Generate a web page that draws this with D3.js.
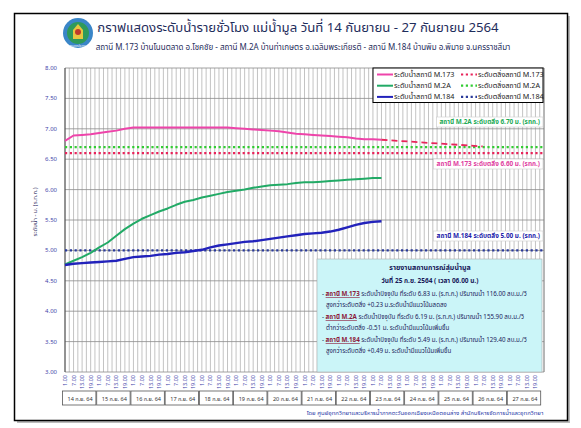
<!DOCTYPE html>
<html><head><meta charset="utf-8">
<script src="https://cdn.jsdelivr.net/npm/d3@7/dist/d3.min.js"></script>
<style>body{margin:0;background:#fff;} text{font-family:"Noto Sans","Noto Sans Thai",Tahoma,sans-serif;}</style>
</head><body><svg id="c" width="581" height="428"></svg>
<script>
// ---- data ----
const hours = d3.range(0, 223, 6); // hours since 14 Sep 01:00, every 6 h
const m173 = [6.80,6.89,6.90,6.91,6.93,6.95,6.97,7.00,7.02,7.02,7.02,7.02,7.02,7.02,7.02,7.02,7.02,7.02,7.02,7.02,7.01,7.00,6.99,6.98,6.97,6.96,6.94,6.92,6.91,6.90,6.89,6.88,6.87,6.86,6.84,6.83,6.83,6.82];
const m2a  = [4.77,4.83,4.89,4.96,5.05,5.13,5.24,5.35,5.44,5.52,5.58,5.64,5.69,5.75,5.80,5.83,5.87,5.90,5.93,5.96,5.98,6.00,6.03,6.05,6.07,6.08,6.09,6.11,6.12,6.12,6.13,6.14,6.15,6.16,6.17,6.18,6.19,6.19];
const m184 = [4.76,4.78,4.79,4.80,4.81,4.82,4.83,4.86,4.89,4.90,4.91,4.93,4.94,4.96,4.97,4.99,5.01,5.05,5.08,5.10,5.12,5.14,5.15,5.17,5.19,5.21,5.23,5.25,5.27,5.28,5.29,5.31,5.34,5.38,5.42,5.45,5.47,5.48];
const trendHours = [222, 293];
const trend173 = [6.82, 6.71];
const bankLevels = {m173: 6.60, m2a: 6.70, m184: 5.00};
const days = ["14 ก.ย. 64","15 ก.ย. 64","16 ก.ย. 64","17 ก.ย. 64","18 ก.ย. 64","19 ก.ย. 64","20 ก.ย. 64","21 ก.ย. 64","22 ก.ย. 64","23 ก.ย. 64","24 ก.ย. 64","25 ก.ย. 64","26 ก.ย. 64","27 ก.ย. 64"];
const hourLabels = ["1.00","7.00","13.00","19.00"];
const yTicks = [3.0,3.5,4.0,4.5,5.0,5.5,6.0,6.5,7.0,7.5,8.0];
const legendItems = [
  {t:"ระดับน้ำสถานี M.173", c:"#ee44aa", dot:false},
  {t:"ระดับตลิ่งสถานี M.173", c:"#e8245a", dot:true},
  {t:"ระดับน้ำสถานี M.2A", c:"#22aa66", dot:false},
  {t:"ระดับตลิ่งสถานี M.2A", c:"#33cc33", dot:true},
  {t:"ระดับน้ำสถานี M.184", c:"#2222bb", dot:false},
  {t:"ระดับตลิ่งสถานี M.184", c:"#2a3a9a", dot:true}
];

const svg = d3.select("#c");
const L=65, R=544, T=68, B=372;
const x = d3.scaleLinear().domain([0,336]).range([L,R]);
const y = d3.scaleLinear().domain([3,8]).range([B,T]);

// frame
svg.append("rect").attr("x",17).attr("y",16).attr("width",553).attr("height",407).attr("fill","#bbb");
svg.append("rect").attr("x",14.5).attr("y",13.5).attr("width",553).attr("height",407).attr("fill","#fff").attr("stroke","#000").attr("stroke-width",1.5);

// logo
const lg = svg.append("g").attr("transform","translate(78,33)");
lg.append("circle").attr("r",15).attr("fill","#3a86c8");
lg.append("circle").attr("r",11).attr("fill","#2f9a5a");
lg.append("path").attr("d","M-5,6 L-5,-3 L0,-9 L5,-3 L5,6 Z").attr("fill","#e8c640");
lg.append("circle").attr("r",3).attr("cy",-1).attr("fill","#c0392b");
lg.append("text").attr("y",13.5).attr("text-anchor","middle").attr("font-size",3).attr("fill","#fff").text("กรมชลประทาน");

// titles
svg.append("text").attr("x",298).attr("y",32).attr("text-anchor","middle").attr("font-size",13.2).attr("fill","#1f2d5c")
  .text("กราฟแสดงระดับน้ำรายชั่วโมง แม่น้ำมูล วันที่ 14 กันยายน - 27 กันยายน 2564");
svg.append("text").attr("x",303).attr("y",50).attr("text-anchor","middle").attr("font-size",8).attr("fill","#1f2d5c")
  .text("สถานี M.173 บ้านโนนตลาด อ.โชคชัย - สถานี M.2A บ้านท่าเกษตร อ.เฉลิมพระเกียรติ - สถานี M.184 บ้านพิม อ.พิมาย จ.นครราชสีมา");

// grid
const g = svg.append("g");
g.selectAll("line.v").data(d3.range(0,337,3)).join("line")
  .attr("x1",d=>x(d)).attr("x2",d=>x(d)).attr("y1",T).attr("y2",B)
  .attr("stroke","#b4b4b4").attr("stroke-width",0.8);
g.selectAll("line.h").data(yTicks).join("line")
  .attr("x1",L).attr("x2",R).attr("y1",d=>y(d)).attr("y2",d=>y(d))
  .attr("stroke","#8c8c8c").attr("stroke-width",0.8);
g.append("line").attr("x1",L).attr("x2",L).attr("y1",T).attr("y2",B).attr("stroke","#444").attr("stroke-width",1);
g.append("line").attr("x1",R).attr("x2",R).attr("y1",T).attr("y2",B).attr("stroke","#777").attr("stroke-width",0.8);

// y axis labels
g.selectAll("text.yl").data(yTicks).join("text")
  .attr("x",L-8).attr("y",d=>y(d)+2).attr("text-anchor","end").attr("font-size",6).attr("fill","#4444aa")
  .text(d=>d.toFixed(2));
svg.append("text").attr("transform","translate(37,212) rotate(-90)").attr("text-anchor","middle")
  .attr("font-size",6).attr("fill","#333366").text("ระดับน้ำ - ม. (ร.ท.ก.)");

// x labels
const xt = d3.range(0,336,6);
g.selectAll("text.xl").data(xt).join("text")
  .attr("transform",d=>`translate(${x(d)+2},${B+3}) rotate(-90)`)
  .attr("text-anchor","end").attr("font-size",5.5).attr("fill","#4444aa")
  .text(d=>hourLabels[(d%24)/6]);

// day boxes
const db = svg.append("g");
days.forEach((d,i)=>{
  db.append("rect").attr("x",x(i*24)-2.5).attr("y",391).attr("width",x(24)-x(0)-0.8).attr("height",14)
    .attr("fill","#fff").attr("stroke","#555").attr("stroke-width",0.8);
  db.append("text").attr("x",x(i*24+12)-2).attr("y",400.5).attr("text-anchor","middle").attr("font-size",5.5).attr("fill","#333").text(d);
});

// bank lines
const bank = [[bankLevels.m2a,"#33cc33"],[bankLevels.m173,"#e8245a"],[bankLevels.m184,"#2a3a9a"]];
bank.forEach(([v,c])=>{
  g.append("line").attr("x1",L).attr("x2",R).attr("y1",y(v)).attr("y2",y(v))
    .attr("stroke",c).attr("stroke-width",2.2).attr("stroke-dasharray","2.2,2.6");
});

// series
const line = d3.line().x(d=>x(d[0])).y(d=>y(d[1]));
[[m2a,"#22aa66",2],[m184,"#2222bb",2.4],[m173,"#ee44aa",2]].forEach(([s,c,w])=>{
  svg.append("path").datum(hours.map((h,i)=>[h,s[i]])).attr("d",line)
    .attr("fill","none").attr("stroke",c).attr("stroke-width",w).attr("stroke-linejoin","round");
});
svg.append("path").datum(trendHours.map((h,i)=>[h,trend173[i]])).attr("d",line)
  .attr("fill","none").attr("stroke","#e8245a").attr("stroke-width",1.8).attr("stroke-dasharray","6,4");

// legend
const lgd = svg.append("g");
lgd.append("rect").attr("x",373).attr("y",68).attr("width",170).attr("height",34.5).attr("fill","#fff").attr("stroke","#000").attr("stroke-width",1);
legendItems.forEach((it,i)=>{
  const col=i%2,row=Math.floor(i/2);
  const lx = col? 461:377, ly = 74.5+row*11.2;
  lgd.append("line").attr("x1",lx).attr("x2",lx+16).attr("y1",ly).attr("y2",ly).attr("stroke",it.c)
    .attr("stroke-width",it.dot?2.2:2).attr("stroke-dasharray",it.dot?"2.2,2.6":null);
  lgd.append("text").attr("x",lx+17).attr("y",ly+2.3).attr("font-size",7.2).attr("fill","#222").text(it.t);
});

// bank annotations
function note(text,xr,yc,c){
  const ng = svg.append("g");
  const r = ng.append("rect");
  const t = ng.append("text").attr("x",xr-3).attr("y",yc+2.2).attr("text-anchor","end").attr("font-size",6.4)
    .attr("font-weight","bold").attr("fill",c).text(text);
  const bb = t.node().getBBox();
  r.attr("x",bb.x-3).attr("y",yc-5).attr("width",bb.width+6).attr("height",10)
    .attr("fill","#fff").attr("stroke","#ccc").attr("stroke-width",0.6);
}
note("สถานี M.2A ระดับตลิ่ง 6.70 ม. (รทก.)",543,122,"#22aa55");
note("สถานี M.173 ระดับตลิ่ง 6.60 ม. (รทก.)",543,164,"#e040a0");
note("สถานี M.184 ระดับตลิ่ง 5.00 ม. (รทก.)",543,236,"#2222aa");

// info box
const ib = svg.append("g");
ib.append("rect").attr("x",317).attr("y",259).attr("width",225).attr("height",113).attr("fill","#cbf5f8").attr("stroke","#aaa").attr("stroke-width",0.6);
ib.append("text").attr("x",430).attr("y",270).attr("text-anchor","middle").attr("font-size",7).attr("font-weight","bold").attr("fill","#1a1a5a").text("รายงานสถานการณ์ลุ่มน้ำมูล");
ib.append("text").attr("x",430).attr("y",283).attr("text-anchor","middle").attr("font-size",6.5).attr("font-weight","bold").attr("fill","#1a1a5a").text("วันที่ 25 ก.ย. 2564  ( เวลา 06.00 น.)");
const info = [
  ["M.173","ระดับน้ำปัจจุบัน  ที่ระดับ 6.83 ม. (ร.ท.ก.) ปริมาณน้ำ 116.00 ลบ.ม./วิ","สูงกว่าระดับตลิ่ง  +0.23 ม.ระดับน้ำมีแนวโน้มลดลง"],
  ["M.2A","ระดับน้ำปัจจุบัน  ที่ระดับ 6.19 ม. (ร.ท.ก.) ปริมาณน้ำ 155.90 ลบ.ม./วิ","ต่ำกว่าระดับตลิ่ง  -0.51 ม. ระดับน้ำมีแนวโน้มเพิ่มขึ้น"],
  ["M.184","ระดับน้ำปัจจุบัน  ที่ระดับ 5.49 ม. (ร.ท.ก.) ปริมาณน้ำ 129.40 ลบ.ม./วิ","สูงกว่าระดับตลิ่ง  +0.49 ม. ระดับน้ำมีแนวโน้มเพิ่มขึ้น"]
];
info.forEach((r,i)=>{
  const yy = 296+i*23;
  const t = ib.append("text").attr("x",322).attr("y",yy).attr("font-size",6.2).attr("fill","#1a1a5a");
  t.append("tspan").text("- ");
  t.append("tspan").attr("font-weight","bold").attr("fill","#8b1a3a").attr("text-decoration","underline").text("สถานี "+r[0]);
  t.append("tspan").text(" "+r[1]);
  ib.append("text").attr("x",326).attr("y",yy+11).attr("font-size",6.2).attr("fill","#1a1a5a").text(r[2]);
});

// footer
svg.append("text").attr("x",425).attr("y",415).attr("text-anchor","middle").attr("font-size",6).attr("fill","#2a3aa8")
  .text("โดย ศูนย์อุทกวิทยาและบริหารน้ำภาคตะวันออกเฉียงเหนือตอนล่าง สำนักบริหารจัดการน้ำและอุทกวิทยา");
</script></body></html>
